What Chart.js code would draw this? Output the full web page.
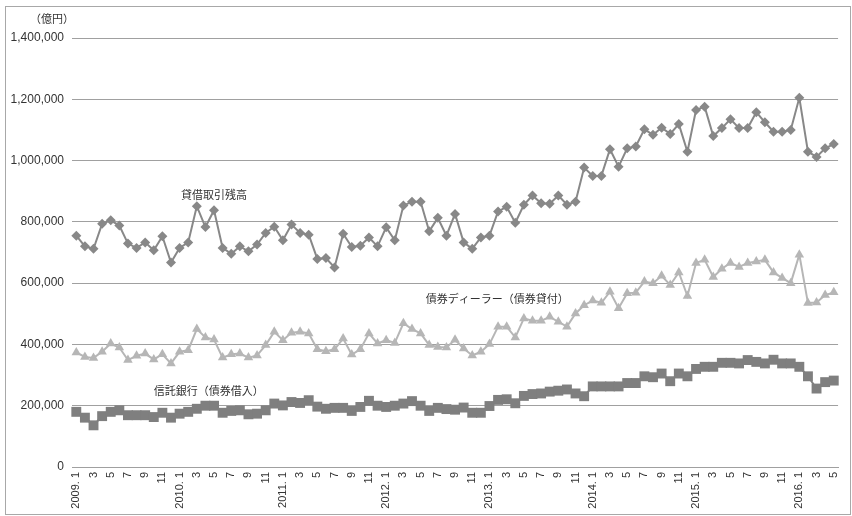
<!DOCTYPE html>
<html lang="ja">
<head>
<meta charset="utf-8">
<title>貸借取引残高の推移</title>
<script src="https://cdn.jsdelivr.net/npm/chart.js@4/dist/chart.umd.min.js"></script>
<style>
  html, body { margin: 0; padding: 0; background: #fff; }
  #wrap { position: relative; width: 852px; height: 516px; }
  #frame { position: absolute; left: 5px; top: 6px; right: 1px; bottom: 1px; border: 1px solid #a8a8a8; pointer-events: none; }
  canvas { position: absolute; left: 0; top: 0; }
</style>
</head>
<body>
<div id="wrap">
  <canvas id="chart" width="852" height="516"></canvas>
  <div id="frame"></div>
</div>
<script>
// Monthly balances, 2009.1 – 2016.5 (unit: 億円)
const years = [2009, 2010, 2011, 2012, 2013, 2014, 2015, 2016];
const lastMonth2016 = 5;

// 貸借取引残高
const lendingBalance = [
  755000, 720000, 712000, 794000, 805000, 788000, 729000, 715000, 733000, 707000, 753000, 667000,
  715000, 733000, 851000, 783000, 838000, 715000, 696000, 720000, 704000, 726000, 764000, 784000,
  740000, 791000, 764000, 758000, 679000, 682000, 651000, 761000, 718000, 722000, 749000, 720000,
  782000, 740000, 853000, 866000, 866000, 769000, 813000, 755000, 826000, 733000, 712000, 749000,
  755000, 834000, 849000, 797000, 856000, 886000, 861000, 859000, 886000, 856000, 866000, 977000,
  950000, 950000, 1037000, 980000, 1040000, 1046000, 1102000, 1084000, 1107000, 1087000, 1119000, 1029000,
  1165000, 1176000, 1080000, 1106000, 1135000, 1106000, 1106000, 1158000, 1125000, 1094000, 1094000, 1100000,
  1205000, 1029000, 1012000, 1040000, 1054000
];

// 債券ディーラー（債券貸付）
const dealerLending = [
  374000, 359000, 356000, 376000, 403000, 390000, 349000, 363000, 370000, 351000, 368000, 338000,
  376000, 381000, 450000, 423000, 416000, 357000, 368000, 370000, 357000, 364000, 398000, 441000,
  414000, 438000, 441000, 436000, 384000, 378000, 384000, 419000, 367000, 384000, 436000, 403000,
  414000, 405000, 469000, 450000, 436000, 398000, 392000, 390000, 415000, 387000, 364000, 376000,
  401000, 458000, 458000, 423000, 485000, 477000, 477000, 490000, 474000, 458000, 501000, 528000,
  543000, 536000, 572000, 518000, 567000, 569000, 605000, 600000, 624000, 594000, 635000, 558000,
  666000, 676000, 620000, 647000, 666000, 653000, 666000, 671000, 676000, 635000, 617000, 600000,
  693000, 535000, 537000, 561000, 570000
];

// 信託銀行（債券借入）
const trustBorrowing = [
  180000, 161000, 136000, 166000, 180000, 185000, 169000, 169000, 169000, 163000, 177000, 161000,
  174000, 180000, 190000, 200000, 200000, 177000, 183000, 185000, 172000, 174000, 185000, 207000,
  201000, 212000, 209000, 218000, 197000, 190000, 193000, 193000, 183000, 196000, 216000, 200000,
  196000, 200000, 207000, 215000, 200000, 183000, 193000, 189000, 187000, 194000, 177000, 177000,
  199000, 219000, 221000, 208000, 232000, 238000, 240000, 246000, 249000, 253000, 240000, 231000,
  263000, 263000, 263000, 263000, 274000, 274000, 296000, 293000, 305000, 280000, 305000, 296000,
  320000, 327000, 327000, 340000, 340000, 338000, 349000, 343000, 338000, 350000, 338000, 338000,
  327000, 296000, 256000, 277000, 282000
];

// Y-axis ticks
const yTicks = [0, 200000, 400000, 600000, 800000, 1000000, 1200000, 1400000];

// Month labels: "2009. 1" for January, month number otherwise
const monthLabels = [];
years.forEach(y => {
  const end = y === 2016 ? lastMonth2016 : 12;
  for (let m = 1; m <= end; m++) monthLabels.push(m === 1 ? y + '. 1' : String(m));
});

// Series captions, anchored in data coordinates (category index, value)
const seriesNotes = [
  { text: '貸借取引残高', index: 16, value: 888000 },
  { text: '債券ディーラー（債券貸付）', index: 48.9, value: 550000 },
  { text: '信託銀行（債券借入）', index: 15.4, value: 249000 }
];

const latinFont = '"Liberation Sans", Arial, sans-serif';
const cjkFont = '"Noto Sans CJK JP", "Liberation Sans", sans-serif';

const notesPlugin = {
  id: 'seriesNotes',
  afterDraw(chart) {
    const { ctx, scales: { x, y } } = chart;
    ctx.save();
    ctx.fillStyle = '#333';
    ctx.font = '11px ' + cjkFont;
    ctx.textAlign = 'center';
    ctx.textBaseline = 'middle';
    seriesNotes.forEach(n => {
      ctx.fillText(n.text, x.getPixelForValue(n.index), y.getPixelForValue(n.value));
    });
    // unit caption above the value axis
    ctx.fillText('（億円）', 52, 19);
    ctx.restore();
  }
};

new Chart(document.getElementById('chart'), {
  type: 'line',
  data: {
    labels: monthLabels,
    datasets: [
      {
        label: '貸借取引残高',
        data: lendingBalance,
        borderColor: '#888888',
        backgroundColor: '#888888',
        borderWidth: 2,
        pointStyle: 'rectRot',
        pointRadius: 5,
        pointBorderWidth: 0,
        tension: 0
      },
      {
        label: '債券ディーラー（債券貸付）',
        data: dealerLending,
        borderColor: '#b6b6b6',
        backgroundColor: '#b6b6b6',
        borderWidth: 2,
        pointStyle: 'triangle',
        pointRadius: 5.5,
        pointBorderWidth: 0,
        tension: 0
      },
      {
        label: '信託銀行（債券借入）',
        data: trustBorrowing,
        borderColor: '#7f7f7f',
        backgroundColor: '#7f7f7f',
        borderWidth: 2,
        pointStyle: 'rect',
        pointRadius: 7,
        pointBorderWidth: 0,
        tension: 0
      }
    ]
  },
  options: {
    responsive: false,
    animation: false,
    events: [],
    layout: { padding: { top: 38, left: 0, right: 4, bottom: 0 } },
    plugins: {
      legend: { display: false },
      tooltip: { enabled: false }
    },
    scales: {
      x: {
        offset: true,
        grid: { display: false, drawTicks: false },
        border: { display: true, color: '#a0a0a0', width: 1 },
        ticks: {
          autoSkip: false,
          minRotation: 90,
          maxRotation: 90,
          padding: 5,
          color: '#333',
          font: { family: latinFont, size: 11 },
          callback(value, index) { return index % 2 === 0 ? monthLabels[index] : ''; }
        },
        afterFit(scale) { scale.height = 49; }
      },
      y: {
        min: 0,
        max: 1400000,
        afterBuildTicks(scale) { scale.ticks = yTicks.map(v => ({ value: v })); },
        grid: { color: '#a0a0a0', lineWidth: 1, drawTicks: false },
        border: { display: false },
        ticks: {
          padding: 8,
          color: '#333',
          font: { family: latinFont, size: 12 },
          callback(value) { return Number(value).toLocaleString('en-US'); }
        },
        afterFit(scale) { scale.width = 72; }
      }
    }
  },
  plugins: [notesPlugin]
});
</script>
</body>
</html>
